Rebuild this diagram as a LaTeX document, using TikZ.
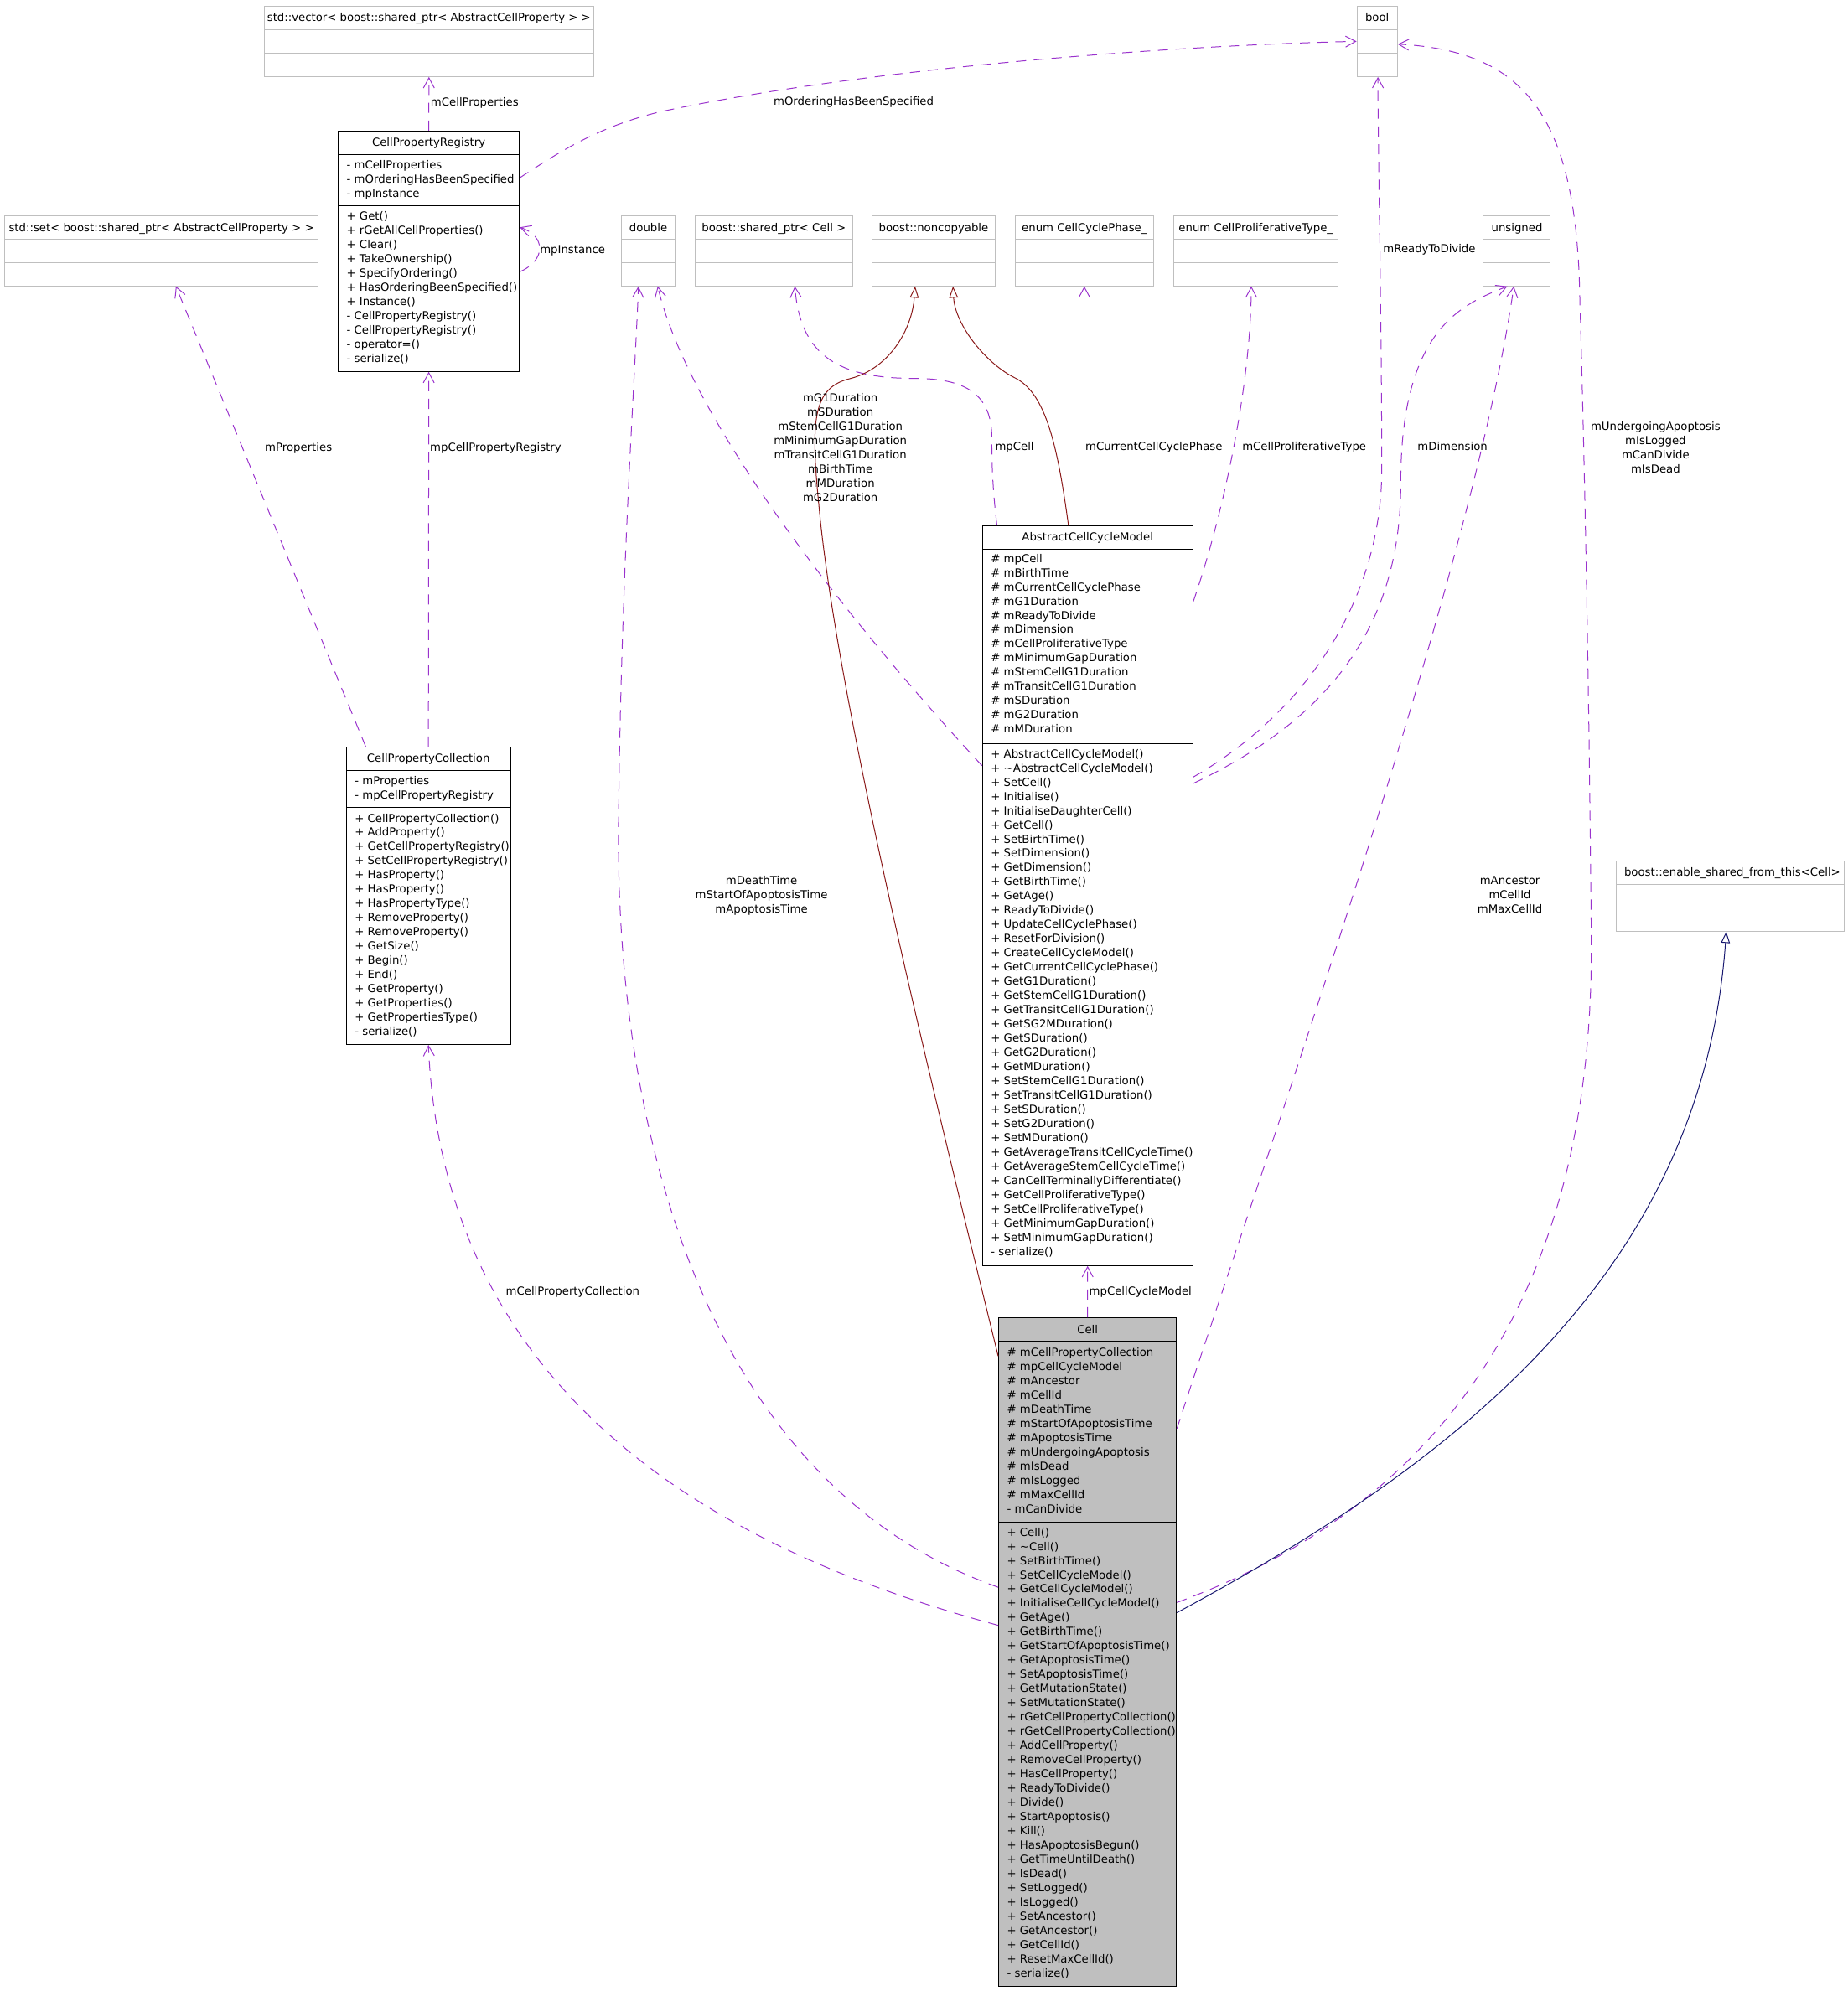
\documentclass[tikz,border=0pt]{standalone}
\usepackage{fontspec}
\setmainfont{DejaVu Sans}
\usetikzlibrary{arrows.meta,fit}
\definecolor{boxgray}{HTML}{BFBFBF}
\definecolor{usecol}{HTML}{9A32CD}
\definecolor{inhred}{HTML}{8B1A1A}
\definecolor{inhblue}{HTML}{191970}
\tikzset{
  txt/.style={font=\fontsize{8.75}{11.2}\selectfont, inner sep=0pt, text=black},
  graybox/.style={draw=boxgray, fill=white, line width=0.66pt, inner sep=0pt},
  blackbox/.style={draw=black, fill=white, line width=0.66pt, inner sep=0pt},
  cellbox/.style={draw=black, fill=boxgray, line width=0.66pt, inner sep=0pt},
  usage/.style={draw=usecol, line width=0.66pt, dash pattern=on 8pt off 6pt, -{Straight Barb[length=8pt,width=8.6pt]}},
  inhr/.style={draw=inhred, line width=0.66pt, -{Triangle[open,length=9pt,width=7pt]}},
  inhb/.style={draw=inhblue, line width=0.66pt, -{Triangle[open,length=9pt,width=7pt]}},
}
% name, style, x1, y1, x2, y2, sep1, sep2, sep colour
\newcommand\classbox[9]{%
  \node[#2, fit={(#3,#4) (#5,#6)}] (#1) {};
  \draw[#9, line width=0.66pt] (#3,#7) -- (#5,#7) (#3,#8) -- (#5,#8);}
% prefix, anchor, x, first baseline, list
\newcommand\textlines[5]{%
  \foreach \tl [count=\ii from 0] in {#5}{\node[txt, anchor=#2] (#1\ii) at (#3,{#4+11.2*\ii}) {\tl};}}
\begin{document}
\begin{tikzpicture}[x=1pt,y=-1pt]
\fill[white] (0,0) rectangle (1455,1568);
\useasboundingbox (0,0) rectangle (1455,1568);

% ---------- boxes ----------
\classbox{vec}{graybox}{208}{4.8}{467.5}{60.3}{23.3}{41.8}{boxgray}
\classbox{cpr}{blackbox}{266.3}{103.2}{409}{292.5}{121.6}{162}{black}
\classbox{set}{graybox}{3.6}{170}{250.6}{225.2}{188.4}{206.8}{boxgray}
\classbox{dbl}{graybox}{489.5}{170}{531.5}{225.2}{188.4}{206.8}{boxgray}
\classbox{sptr}{graybox}{547.4}{170}{671.3}{225.2}{188.4}{206.8}{boxgray}
\classbox{nonc}{graybox}{686.4}{170}{783.8}{225.2}{188.4}{206.8}{boxgray}
\classbox{ccp}{graybox}{799.3}{170}{908.4}{225.2}{188.4}{206.8}{boxgray}
\classbox{cpt}{graybox}{924}{170}{1053.5}{225.2}{188.4}{206.8}{boxgray}
\classbox{uns}{graybox}{1167.8}{170}{1220.2}{225.2}{188.4}{206.8}{boxgray}
\classbox{bool}{graybox}{1068.5}{4.8}{1100.3}{60.3}{23.3}{41.8}{boxgray}
\classbox{esft}{graybox}{1272.4}{677.9}{1452.1}{733.3}{696.3}{714.8}{boxgray}
\classbox{cpc}{blackbox}{272.7}{588.4}{402}{822.6}{606.6}{636.1}{black}
\classbox{accm}{blackbox}{773.6}{414.1}{939.2}{996.7}{432.3}{585.7}{black}
\classbox{cell}{cellbox}{786.3}{1037.8}{926.4}{1564.5}{1056.5}{1198.9}{black}

% ---------- headers ----------
\node[txt, anchor=base] (vech) at (337.75,17) {std::vector< boost::shared\_ptr< AbstractCellProperty > >};
\node[txt, anchor=base] (cprh) at (337.65,115.4) {CellPropertyRegistry};
\node[txt, anchor=base] (seth) at (127.1,182.2) {std::set< boost::shared\_ptr< AbstractCellProperty > >};
\node[txt, anchor=base] (dblh) at (510.5,182.2) {double};
\node[txt, anchor=base] (sptrh) at (609.35,182.2) {boost::shared\_ptr< Cell >};
\node[txt, anchor=base] (nonch) at (735.1,182.2) {boost::noncopyable};
\node[txt, anchor=base] (ccph) at (853.85,182.2) {enum CellCyclePhase\_};
\node[txt, anchor=base] (cpth) at (988.75,182.2) {enum CellProliferativeType\_};
\node[txt, anchor=base] (unsh) at (1194.5,182.2) {unsigned};
\node[txt, anchor=base] (boolh) at (1084.4,17) {bool};
\node[txt, anchor=base] (esfth) at (1364,690.1) {boost::enable\_shared\_from\_this<Cell>};
\node[txt, anchor=base] (cpch) at (337.35,600.5) {CellPropertyCollection};
\node[txt, anchor=base] (accmh) at (856.4,426.2) {AbstractCellCycleModel};
\node[txt, anchor=base] (cellh) at (856.35,1050.1) {Cell};

% ---------- members ----------
\textlines{cprA}{base west}{272.8}{132.8}{{- mCellProperties},{- mOrderingHasBeenSpecified},{- mpInstance}}
\textlines{cprM}{base west}{272.8}{173.5}{{+ Get()},{+ rGetAllCellProperties()},{+ Clear()},{+ TakeOwnership()},{+ SpecifyOrdering()},{+ HasOrderingBeenSpecified()},{+ Instance()},{- CellPropertyRegistry()},{- CellPropertyRegistry()},{- operator=()},{- serialize()}}

\textlines{cpcA}{base west}{279.2}{617.8}{{- mProperties},{- mpCellPropertyRegistry}}
\textlines{cpcM}{base west}{279.2}{647.4}{{+ CellPropertyCollection()},{+ AddProperty()},{+ GetCellPropertyRegistry()},{+ SetCellPropertyRegistry()},{+ HasProperty()},{+ HasProperty()},{+ HasPropertyType()},{+ RemoveProperty()},{+ RemoveProperty()},{+ GetSize()},{+ Begin()},{+ End()},{+ GetProperty()},{+ GetProperties()},{+ GetPropertiesType()},{- serialize()}}

\textlines{accmA}{base west}{780.1}{442.9}{{\# mpCell},{\# mBirthTime},{\# mCurrentCellCyclePhase},{\# mG1Duration},{\# mReadyToDivide},{\# mDimension},{\# mCellProliferativeType},{\# mMinimumGapDuration},{\# mStemCellG1Duration},{\# mTransitCellG1Duration},{\# mSDuration},{\# mG2Duration},{\# mMDuration}}
\textlines{accmM}{base west}{780.1}{596.7}{{+ AbstractCellCycleModel()},{+ \textasciitilde AbstractCellCycleModel()},{+ SetCell()},{+ Initialise()},{+ InitialiseDaughterCell()},{+ GetCell()},{+ SetBirthTime()},{+ SetDimension()},{+ GetDimension()},{+ GetBirthTime()},{+ GetAge()},{+ ReadyToDivide()},{+ UpdateCellCyclePhase()},{+ ResetForDivision()},{+ CreateCellCycleModel()},{+ GetCurrentCellCyclePhase()},{+ GetG1Duration()},{+ GetStemCellG1Duration()},{+ GetTransitCellG1Duration()},{+ GetSG2MDuration()},{+ GetSDuration()},{+ GetG2Duration()},{+ GetMDuration()},{+ SetStemCellG1Duration()},{+ SetTransitCellG1Duration()},{+ SetSDuration()},{+ SetG2Duration()},{+ SetMDuration()},{+ GetAverageTransitCellCycleTime()},{+ GetAverageStemCellCycleTime()},{+ CanCellTerminallyDifferentiate()},{+ GetCellProliferativeType()},{+ SetCellProliferativeType()},{+ GetMinimumGapDuration()},{+ SetMinimumGapDuration()},{- serialize()}}

\textlines{cellA}{base west}{792.8}{1068}{{\# mCellPropertyCollection},{\# mpCellCycleModel},{\# mAncestor},{\# mCellId},{\# mDeathTime},{\# mStartOfApoptosisTime},{\# mApoptosisTime},{\# mUndergoingApoptosis},{\# mIsDead},{\# mIsLogged},{\# mMaxCellId},{- mCanDivide}}
\textlines{cellM}{base west}{792.8}{1209.7}{{+ Cell()},{+ \textasciitilde Cell()},{+ SetBirthTime()},{+ SetCellCycleModel()},{+ GetCellCycleModel()},{+ InitialiseCellCycleModel()},{+ GetAge()},{+ GetBirthTime()},{+ GetStartOfApoptosisTime()},{+ GetApoptosisTime()},{+ SetApoptosisTime()},{+ GetMutationState()},{+ SetMutationState()},{+ rGetCellPropertyCollection()},{+ rGetCellPropertyCollection()},{+ AddCellProperty()},{+ RemoveCellProperty()},{+ HasCellProperty()},{+ ReadyToDivide()},{+ Divide()},{+ StartApoptosis()},{+ Kill()},{+ HasApoptosisBegun()},{+ GetTimeUntilDeath()},{+ IsDead()},{+ SetLogged()},{+ IsLogged()},{+ SetAncestor()},{+ GetAncestor()},{+ GetCellId()},{+ ResetMaxCellId()},{- serialize()}}

% ---------- connectors ----------
% CellPropertyRegistry -> vector
\draw[usage] (cpr.north) -- (vec.south);
% CellPropertyRegistry -> bool
\draw[usage] (cpr.east |- 0,140) .. controls (440,120) and (470,100) .. (520,88)
   .. controls (700,50) and (950,35) .. (bool.west |- 0,32.6);
% self loop
\draw[usage] (cpr.east |- 0,214) .. controls (430,205) and (430,186) .. (cpr.east |- 0,179);
% CellPropertyCollection -> registry, set
\draw[usage] (cpc.north) -- (cpr.south);
\draw[usage] (cpc.north -| 288,0) -- (set.south -| 138.5,0);
% Cell -> CellPropertyCollection
\draw[usage] (cell.west |- 0,1280) .. controls (600,1230) and (350,1120) .. (cpc.south);
% Cell -> double
\draw[usage] (cell.west |- 0,1250) .. controls (560,1170) and (485,900) .. (487,650)
   .. controls (489,450) and (500,300) .. (dbl.south -| 502.7,0);
% AbstractCellCycleModel -> double
\draw[usage] (accm.west |- 0,603) .. controls (650,470) and (540,320) .. (dbl.south -| 517.9,0);
% AbstractCellCycleModel -> shared_ptr<Cell>
\draw[usage] (accm.north -| 785,0) .. controls (781,380) and (781,360) .. (781,345)
   .. controls (781,310) and (760,298) .. (720,298) .. controls (660,298) and (630,280) .. (sptr.south -| 625.9,0);
% AbstractCellCycleModel -> noncopyable
\draw[inhr] (accm.north -| 841.3,0) .. controls (832,345) and (822,308) .. (798,297)
   .. controls (775,285) and (752,255) .. (nonc.south -| 750.4,0);
% Cell -> noncopyable
\draw[inhr] (cell.west |- 0,1068) .. controls (740,880) and (660,560) .. (645,400)
   .. controls (638,330) and (640,305) .. (670,298) .. controls (700,290) and (718,260) .. (nonc.south -| 720.6,0);
% AbstractCellCycleModel -> enums
\draw[usage] (accm.north -| ccp.south) -- (ccp.south);
\draw[usage] (accm.east |- 0,474) .. controls (965,400) and (985,300) .. (cpt.south -| 985.3,0);
% AbstractCellCycleModel -> bool (mReadyToDivide)
\draw[usage] (accm.east |- 0,612) .. controls (1030,560) and (1088,470) .. (1088,370)
   .. controls (1088,250) and (1085,120) .. (bool.south -| 1085,0);
% AbstractCellCycleModel -> unsigned (mDimension)
\draw[usage] (accm.east |- 0,617) .. controls (1060,560) and (1103,480) .. (1103,380)
   .. controls (1103,260) and (1150,240) .. (uns.south -| 1186.9,0);
% Cell -> unsigned
\draw[usage] (cell.east |- 0,1125) .. controls (1000,900) and (1160,450) .. (uns.south -| 1192,0);
% Cell -> bool
\draw[usage] (cell.east |- 0,1262) .. controls (1150,1180) and (1255,1000) .. (1253,740)
   .. controls (1251,500) and (1246,300) .. (1244,237) .. controls (1242,90) and (1200,40) .. (bool.east |- 0,34.8);
% Cell -> enable_shared_from_this
\draw[inhb] (cell.east |- 0,1270) .. controls (1150,1150) and (1340,1000) .. (esft.south -| 1359.3,0);
% Cell -> AbstractCellCycleModel
\draw[usage] (cell.north) -- (accm.south);

% ---------- labels ----------
\node[txt, anchor=base west] (l1) at (339,83.3) {mCellProperties};
\node[txt, anchor=base west] (l2) at (609,83) {mOrderingHasBeenSpecified};
\node[txt, anchor=base west] (l3) at (425,199.4) {mpInstance};
\node[txt, anchor=base west] (l4) at (208.5,355.4) {mProperties};
\node[txt, anchor=base west] (l5) at (338.5,355.4) {mpCellPropertyRegistry};
\textlines{l6}{base}{661.7}{316.4}{mG1Duration,mSDuration,mStemCellG1Duration,mMinimumGapDuration,mTransitCellG1Duration,mBirthTime,mMDuration,mG2Duration}
\node[txt, anchor=base west] (l7) at (783.5,355) {mpCell};
\node[txt, anchor=base west] (l8) at (854.5,355) {mCurrentCellCyclePhase};
\node[txt, anchor=base west] (l9) at (978,355) {mCellProliferativeType};
\node[txt, anchor=base west] (l10) at (1089,199.2) {mReadyToDivide};
\node[txt, anchor=base west] (l11) at (1116,355) {mDimension};
\textlines{l12}{base}{1303.6}{339}{mUndergoingApoptosis,mIsLogged,mCanDivide,mIsDead}
\textlines{l13}{base}{599.6}{696.3}{mDeathTime,mStartOfApoptosisTime,mApoptosisTime}
\textlines{l14}{base}{1188.9}{696.3}{mAncestor,mCellId,mMaxCellId}
\node[txt, anchor=base] (l15) at (451,1020) {mCellPropertyCollection};
\node[txt, anchor=base west] (l16) at (857.5,1019.6) {mpCellCycleModel};
\end{tikzpicture}
\end{document}
